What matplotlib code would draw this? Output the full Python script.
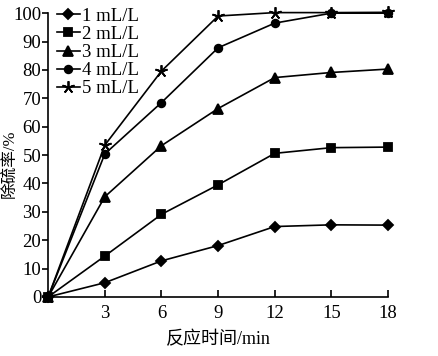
import matplotlib.pyplot as plt
import numpy as np

plt.rcParams['font.family'] = ['Liberation Serif', 'Noto Sans CJK SC']

time_min = [0, 3, 6, 9, 12, 15, 18]
labels = ['1 mL/L', '2 mL/L', '3 mL/L', '4 mL/L', '5 mL/L']
s1 = [0, 5.0, 12.7, 18.1, 24.8, 25.4, 25.3]
s2 = [0, 14.4, 29.1, 39.5, 50.6, 52.6, 52.8]
s3 = [0, 35.3, 53.3, 66.4, 77.3, 79.1, 80.3]
s4 = [0, 50.4, 68.5, 87.8, 96.5, 100.0, 100.0]
s5 = [0, 53.5, 79.6, 99.0, 100.2, 100.2, 100.3]

fig = plt.figure(figsize=(4.38, 3.56), dpi=100)
ax = fig.add_axes([0.11, 0.166, 0.776, 0.797])

markers = ['D', 's', '^', 'o', (5, 2, 0)]
sizes = [5.5, 6, 6.5, 5.5, 9]
for ys, lab, m, ms in zip([s1, s2, s3, s4, s5], labels, markers, sizes):
    ax.plot(time_min, ys, color='black', lw=1.2, marker=m, ms=ms,
            mec='black', mfc='black', mew=1.3, label=lab, clip_on=False)

ax.set_xlim(0, 18)
ax.set_ylim(0, 100)
ax.set_xticks([3, 6, 9, 12, 15, 18])
ax.set_yticks(np.arange(0, 101, 10))
ax.spines['top'].set_visible(False)
ax.spines['right'].set_visible(False)
ax.spines['left'].set_linewidth(1.2)
ax.spines['bottom'].set_linewidth(1.2)
ax.tick_params(axis='x', direction='in', length=5, width=1.2, labelsize=13.5, pad=6)
ax.tick_params(axis='y', direction='out', length=4, width=1.2, labelsize=13.5, pad=1)
ax.set_xlabel('反应时间/min', fontsize=13, labelpad=6)
ax.set_ylabel('除硫率/%', fontsize=12)
ax.yaxis.set_label_coords(-0.088, 0.47)

ax.legend(loc='upper left', bbox_to_anchor=(-0.012, 1.065), frameon=False, fontsize=13.5,
          handlelength=1.2, handletextpad=0.1, labelspacing=0.05, borderaxespad=0.3)

fig.savefig('out.png', dpi=100)
